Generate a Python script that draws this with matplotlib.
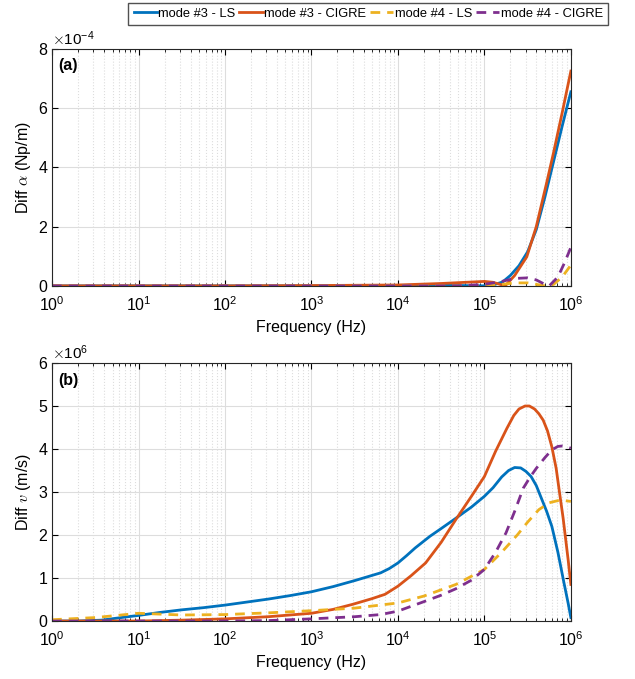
"""
    Diff alpha / Diff v vs frequency, two panels
"""
import matplotlib.pyplot as plt
import numpy as np

plt.rcParams['font.family'] = ['Liberation Sans', 'DejaVu Sans']
plt.rcParams['mathtext.fontset'] = 'cm'

# colours (matlab default order)
c_blue = '#0072BD'
c_orange = '#D95319'
c_yellow = '#EDB120'
c_purple = '#7E2F8E'

labels = ['mode #3 - LS', 'mode #3 - CIGRE', 'mode #4 - LS', 'mode #4 - CIGRE']

# panel (a): log10(f) and Diff alpha in 1e-4 Np/m
a_ls3_x = [0, 1, 2, 3, 4, 4.5, 5, 5.1, 5.21, 5.3, 5.4, 5.5, 5.6, 5.7, 5.8, 5.9, 6]
a_ls3_y = [0, 0, 0, 0, 0.01, 0.02, 0.0, 0.03, 0.13, 0.35, 0.68, 1.15, 1.9, 3.0, 4.2, 5.4, 6.55]
a_cg3_x = [0, 1, 2, 3, 4, 4.5, 5, 5.1, 5.24, 5.35, 5.49, 5.6, 5.72, 5.8, 5.9, 6]
a_cg3_y = [0, 0, 0, 0.01, 0.03, 0.08, 0.15, 0.12, 0.0, 0.35, 0.98, 2.0, 3.48, 4.5, 5.85, 7.25]
a_ls4_x = [0, 1, 2, 3, 4, 4.8, 5.0, 5.2, 5.35, 5.5, 5.6, 5.7, 5.8, 5.9, 6]
a_ls4_y = [0, 0, 0, 0, 0, 0, 0.02, 0.05, 0.1, 0.1, 0.05, 0.0, 0.05, 0.3, 0.7]
a_cg4_x = [0, 1, 2, 3, 4, 4.7, 5.0, 5.2, 5.35, 5.5, 5.6, 5.7, 5.75, 5.85, 5.93, 6]
a_cg4_y = [0, 0, 0, 0, 0, 0, 0.05, 0.15, 0.25, 0.27, 0.2, 0.05, 0.0, 0.3, 0.8, 1.3]

# panel (b): log10(f) and Diff v in 1e6 m/s
b_ls3_x = [0, 0.3, 0.57, 0.8, 1.0, 1.25, 1.5, 1.75, 2.0, 2.25, 2.5, 2.75, 3.0, 3.25, 3.5,
           3.65, 3.8, 3.9, 4.0, 4.1, 4.2, 4.37, 4.5, 4.67, 4.85, 5.0, 5.1, 5.2, 5.28, 5.35,
           5.42, 5.48, 5.54, 5.6, 5.65, 5.72, 5.78, 5.85, 5.92, 5.97, 6.0]
b_ls3_y = [0, 0, 0.02, 0.08, 0.13, 0.2, 0.26, 0.31, 0.37, 0.44, 0.51, 0.59, 0.68, 0.8, 0.94,
           1.03, 1.12, 1.22, 1.35, 1.52, 1.7, 1.97, 2.15, 2.39, 2.65, 2.9, 3.1, 3.35, 3.5, 3.57,
           3.56, 3.48, 3.36, 3.15, 2.9, 2.55, 2.2, 1.6, 0.89, 0.4, 0.08]
b_cg3_x = [0, 1.0, 1.5, 2.0, 2.5, 3.0, 3.25, 3.48, 3.7, 3.85, 4.0, 4.15, 4.32, 4.5, 4.67,
           4.85, 5.0, 5.13, 5.26, 5.34, 5.4, 5.47, 5.52, 5.58, 5.63, 5.68, 5.73, 5.78, 5.83,
           5.87, 5.91, 5.94, 5.97, 6.0]
b_cg3_y = [0, 0, 0.02, 0.05, 0.1, 0.18, 0.27, 0.39, 0.52, 0.62, 0.81, 1.05, 1.35, 1.83, 2.36,
           2.9, 3.36, 3.95, 4.48, 4.78, 4.93, 5.0, 5.0, 4.93, 4.82, 4.67, 4.42, 4.05, 3.55,
           2.97, 2.4, 1.9, 1.4, 0.85]
b_ls4_x = [0, 0.5, 1.0, 1.5, 2.0, 2.5, 3.0, 3.5, 4.0, 4.3, 4.67, 5.0, 5.2, 5.38, 5.5,
           5.63, 5.75, 5.85, 5.93, 6.0]
b_ls4_y = [0.03, 0.08, 0.18, 0.14, 0.15, 0.19, 0.24, 0.3, 0.42, 0.58, 0.85, 1.2, 1.6, 2.0, 2.3,
           2.59, 2.75, 2.8, 2.8, 2.78]
b_cg4_x = [0, 1.0, 2.0, 2.5, 3.0, 3.5, 3.8, 4.0, 4.3, 4.5, 4.67, 4.85, 5.0, 5.13, 5.25,
           5.35, 5.45, 5.53, 5.6, 5.7, 5.78, 5.85, 5.9, 5.95, 6.0]
b_cg4_y = [0, 0, 0, 0.01, 0.05, 0.1, 0.15, 0.23, 0.45, 0.6, 0.75, 0.95, 1.2, 1.6, 2.05,
           2.55, 3.09, 3.35, 3.55, 3.8, 3.98, 4.06, 4.07, 4.05, 4.02]

fig = plt.figure(figsize=(6.35, 6.79), dpi=100)
ax1 = fig.add_axes([0.082, 0.579, 0.817, 0.349])
ax2 = fig.add_axes([0.082, 0.0854, 0.817, 0.380])

lw = 2.0
dash = (0, (3.5, 2.5))


def draw(ax, xs, ys):
    styles = [(c_blue, '-'), (c_orange, '-'), (c_yellow, dash), (c_purple, dash)]
    lines = []
    for (x, y), (c, ls), lab in zip(zip(xs, ys), styles, labels):
        ln, = ax.plot(10 ** np.array(x), y, color=c, linestyle=ls, linewidth=lw, label=lab)
        lines.append(ln)
    return lines


def style(ax, ymax, tag, ylabel, expo):
    ax.set_xscale('log')
    ax.set_xlim(1, 1e6)
    ax.set_ylim(0, ymax)
    ax.set_xticks([1, 10, 100, 1e3, 1e4, 1e5, 1e6])
    ax.grid(True, which='major', color='#dddddd', linewidth=0.8)
    ax.grid(True, which='minor', axis='x', color='#dddddd', linestyle=':', linewidth=0.8)
    ax.tick_params(which='both', direction='in', top=True, right=True, labelsize=11.5)
    ax.tick_params(which='major', length=4)
    ax.tick_params(which='minor', length=2)
    ax.tick_params(axis='x', pad=7)
    for s in ax.spines.values():
        s.set_linewidth(0.8)
        s.set_color('#262626')
    ax.set_axisbelow(True)
    ax.set_xlabel('Frequency (Hz)', fontsize=11.5, labelpad=4)
    ax.set_ylabel(ylabel, fontsize=11.5, labelpad=4)
    ax.text(0.012, 0.96, tag, transform=ax.transAxes, fontsize=11.5,
            fontweight='bold', va='top', ha='left')
    ax.text(0.0, 1.005, r'$\times\mathdefault{10^{%s}}$' % expo, transform=ax.transAxes,
            fontsize=11, va='bottom', ha='left')


lines = draw(ax1, [a_ls3_x, a_cg3_x, a_ls4_x, a_cg4_x], [a_ls3_y, a_cg3_y, a_ls4_y, a_cg4_y])
style(ax1, 8, '(a)', r'Diff $\alpha$ (Np/m)', '-4')
draw(ax2, [b_ls3_x, b_cg3_x, b_ls4_x, b_cg4_x], [b_ls3_y, b_cg3_y, b_ls4_y, b_cg4_y])
style(ax2, 6, '(b)', r'Diff $v$ (m/s)', '6')

fig.legend(handles=lines, loc='upper center', bbox_to_anchor=(0.58, 0.996), ncol=4,
           fontsize=9.3, frameon=True, fancybox=False, edgecolor='#262626',
           handlelength=1.8, handletextpad=0.12, columnspacing=0.3, borderpad=0.4,
           borderaxespad=0.0)

plt.savefig("out.png", dpi=100)
